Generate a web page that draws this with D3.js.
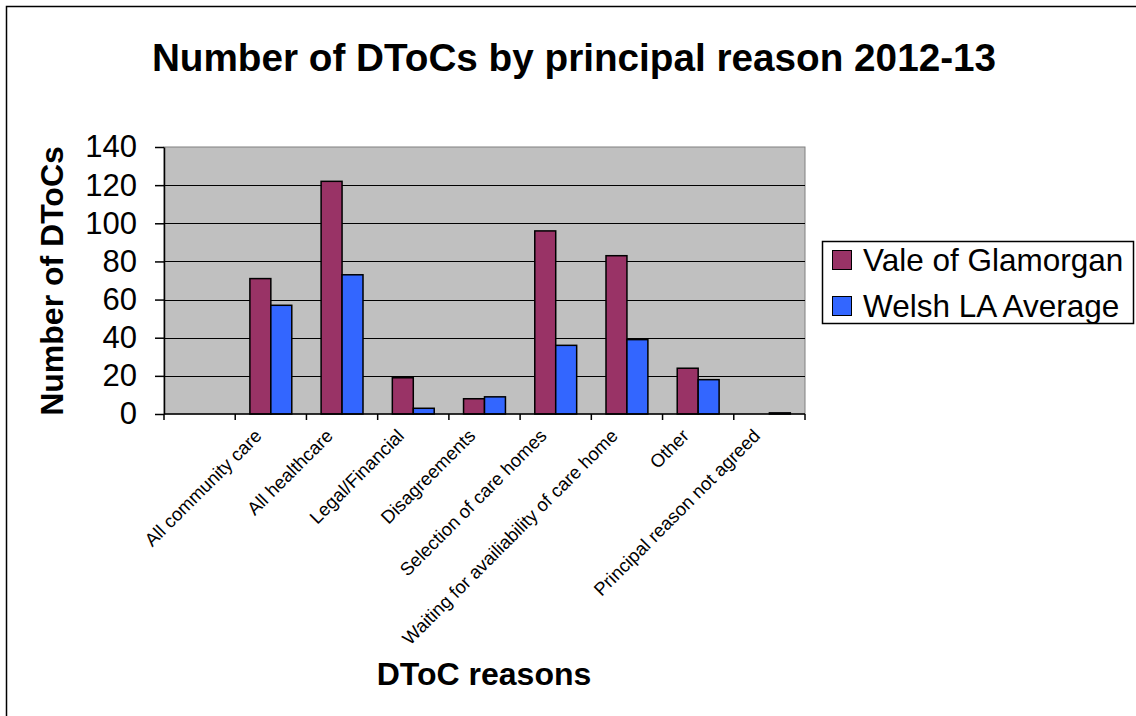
<!DOCTYPE html>
<html>
<head>
<meta charset="utf-8">
<script src="https://cdn.jsdelivr.net/npm/d3@7"></script>
<style>
  html, body { margin: 0; padding: 0; background: #fff; }
  svg { display: block; font-family: "Liberation Sans", Arial, sans-serif; }
</style>
</head>
<body>
<svg id="chart" width="1136" height="716"></svg>
<script>
const categories = ["", "All community care", "All healthcare", "Legal/Financial", "Disagreements",
  "Selection of care homes", "Waiting for availiability of care home", "Other", "Principal reason not agreed"];
const seriesNames = ["Vale of Glamorgan", "Welsh LA Average"];
const valeValues = [0, 71, 122, 19, 8, 96, 83, 24, 0];
const welshValues = [0, 57, 73, 3, 9, 36, 39, 18, 0.6];
const yTicks = [0, 20, 40, 60, 80, 100, 120, 140];
const colors = ["#993366", "#3366FF"];

const title = "Number of DToCs by principal reason 2012-13";
const yTitle = "Number of DToCs";
const xTitle = "DToC reasons";

const svg = d3.select("#chart");
const plot = { left: 164, right: 805, top: 147, bottom: 414 };

// outer frame (only top/left visible)
svg.append("rect").attr("x", 6.5).attr("y", 6.5).attr("width", 1200).attr("height", 800)
  .attr("fill", "#fff").attr("stroke", "#000").attr("stroke-width", 1.5);

const x = d3.scaleBand().domain(categories).range([plot.left, plot.right]).padding(0);
const x1 = d3.scaleBand().domain(seriesNames).range([0, x.bandwidth()]).paddingInner(0).paddingOuter(0.7);
const y = d3.scaleLinear().domain([0, 140]).range([plot.bottom, plot.top]);

// plot background
svg.append("rect").attr("x", plot.left).attr("y", plot.top)
  .attr("width", plot.right - plot.left).attr("height", plot.bottom - plot.top)
  .attr("fill", "#C0C0C0").attr("stroke", "#808080").attr("stroke-width", 1);

// gridlines
svg.append("g").selectAll("line").data(yTicks.filter(d => d > 0 && d < 140)).join("line")
  .attr("x1", plot.left).attr("x2", plot.right)
  .attr("y1", d => Math.round(y(d)) + 0.5).attr("y2", d => Math.round(y(d)) + 0.5)
  .attr("stroke", "#000").attr("stroke-width", 1);

// bars
const rows = categories.map((c, i) => ({ cat: c, vals: [valeValues[i], welshValues[i]] }));
const gCat = svg.append("g").selectAll("g").data(rows).join("g")
  .attr("transform", d => `translate(${x(d.cat)},0)`);
gCat.selectAll("rect").data(d => d.vals.map((v, j) => ({ v, s: seriesNames[j], j })))
  .join("rect")
  .filter(d => d.v > 0)
  .attr("x", d => x1(d.s))
  .attr("y", d => y(d.v))
  .attr("width", x1.bandwidth())
  .attr("height", d => y(0) - y(d.v))
  .attr("fill", d => colors[d.j])
  .attr("stroke", "#000").attr("stroke-width", 1.5);

// y axis
const yAxis = d3.axisLeft(y).tickValues(yTicks).tickSize(9).tickPadding(18).tickSizeOuter(0);
const gy = svg.append("g").attr("transform", `translate(${plot.left},0)`).call(yAxis);
gy.select(".domain").attr("stroke", "#000").attr("stroke-width", 1.5);
gy.selectAll(".tick line").attr("stroke", "#000").attr("stroke-width", 1.5);
gy.selectAll(".tick text").attr("font-size", 31).attr("fill", "#000")
  .attr("font-family", "'Liberation Sans', Arial, sans-serif");

// x axis: ticks at category boundaries
svg.append("line").attr("x1", plot.left).attr("x2", plot.right)
  .attr("y1", plot.bottom).attr("y2", plot.bottom).attr("stroke", "#000").attr("stroke-width", 1.5);
const boundaries = categories.map(c => x(c)).concat([x(categories[categories.length - 1]) + x.bandwidth()]);
svg.append("g").selectAll("line").data(boundaries).join("line")
  .attr("x1", d => d).attr("x2", d => d)
  .attr("y1", plot.bottom).attr("y2", plot.bottom + 6)
  .attr("stroke", "#000").attr("stroke-width", 1.5);

// category labels
svg.append("g").selectAll("text").data(categories).join("text")
  .attr("transform", d => `translate(${x(d) + x.bandwidth() / 2 - 8},437) rotate(-45)`)
  .attr("text-anchor", "end")
  .attr("font-size", 18.5).attr("fill", "#000")
  .text(d => d);

// titles
svg.append("text").attr("x", 574).attr("y", 71).attr("text-anchor", "middle")
  .attr("font-size", 38.7).attr("font-weight", "bold").text(title);
svg.append("text").attr("transform", `translate(63,281) rotate(-90)`).attr("text-anchor", "middle")
  .attr("font-size", 32).attr("font-weight", "bold").text(yTitle);
svg.append("text").attr("x", 484).attr("y", 685).attr("text-anchor", "middle")
  .attr("font-size", 32).attr("font-weight", "bold").text(xTitle);

// legend
const lg = svg.append("g");
lg.append("rect").attr("x", 822.5).attr("y", 241.5).attr("width", 311).attr("height", 82)
  .attr("fill", "#fff").attr("stroke", "#000").attr("stroke-width", 1.5);
const li = lg.selectAll("g").data(seriesNames).join("g")
  .attr("transform", (d, i) => `translate(832,${260 + i * 46})`);
li.append("rect").attr("x", 0.5).attr("y", -9.5).attr("width", 19).attr("height", 19)
  .attr("fill", (d, i) => colors[i]).attr("stroke", "#000").attr("stroke-width", 1);
li.append("text").attr("x", 31).attr("y", 11).attr("font-size", 31.5).attr("fill", "#000").text(d => d);
</script>
</body>
</html>
